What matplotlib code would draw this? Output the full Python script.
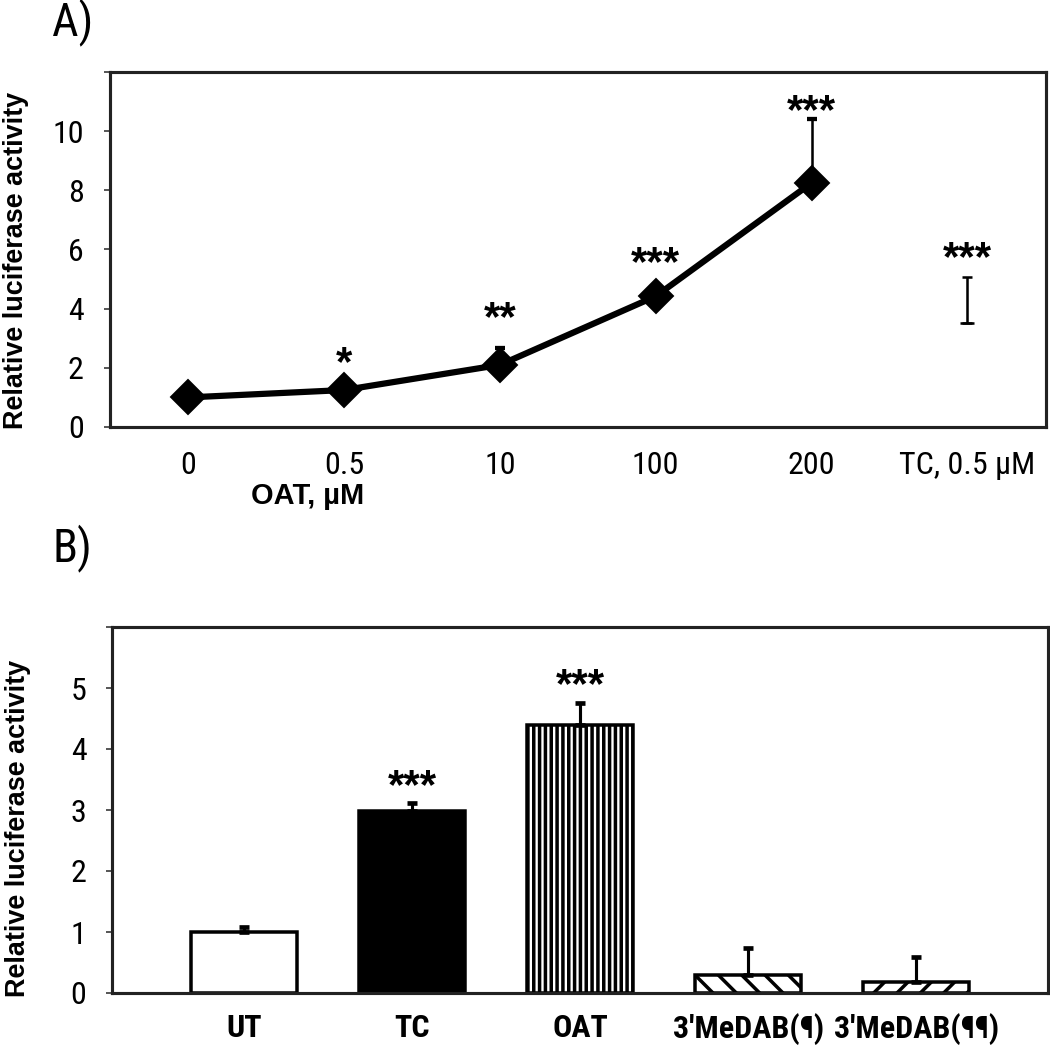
import matplotlib
matplotlib.use("Agg")
import matplotlib.pyplot as plt
import numpy as np

# ---- Panel A data ----
a_labels = ["0", "0.5", "10", "100", "200", "TC, 0.5 µM"]
a_oat_values = [1.0, 1.25, 2.1, 4.42, 8.25]
a_oat_err_up = [0.0, 0.0, 0.57, 0.3, 2.15]
a_tc_value = 3.5
a_tc_err_up = 1.58
a_stars = ["", "*", "**", "***", "***", "***"]
a_star_y = [None, 2.37, 3.9, 5.73, 10.88, 5.9]

# ---- Panel B data ----
b_labels = ["UT", "TC", "OAT", "3'MeDAB(¶)", "3'MeDAB(¶¶)"]
b_values = [1.0, 2.98, 4.39, 0.30, 0.18]
b_err_up = [0.09, 0.14, 0.36, 0.43, 0.41]
b_stars = ["", "***", "***", "", ""]
b_star_y = [None, 3.49, 5.15, None, None]

DPI = 140
W, H = 1050, 1046
fig = plt.figure(figsize=(W / DPI, H / DPI), dpi=DPI)
plt.rcParams['hatch.linewidth'] = 1.8

narrow = ['Roboto Condensed', 'Archivo Narrow', 'DejaVu Sans']
boldf = ['Liberation Sans', 'DejaVu Sans']
STAR_OFF = 18  # px from star centre to text baseline

def px2pt(px):
    return px * 72.0 / DPI

def axrect(l, t, r, b):
    return [l / W, 1 - b / H, (r - l) / W, (b - t) / H]

# ---------------- Panel A ----------------
axA = fig.add_axes(axrect(109.7, 72, 1046, 427))
xa = np.arange(len(a_oat_values))
axA.plot(xa, a_oat_values, color='black', lw=3.2, marker='D', markersize=px2pt(24),
         markerfacecolor='black', markeredgecolor='black', zorder=3)
axA.errorbar(xa, a_oat_values, yerr=[np.zeros(len(xa)), a_oat_err_up], fmt='none',
             ecolor='black', elinewidth=1.3, capsize=px2pt(5), capthick=2.2, zorder=2)
axA.errorbar([5], [a_tc_value], yerr=[[0], [a_tc_err_up]], fmt='_', color='black',
             markersize=px2pt(14), markeredgewidth=1.3,
             ecolor='black', elinewidth=1.3, capsize=px2pt(5), capthick=2.2)
for i, (s, y) in enumerate(zip(a_stars, a_star_y)):
    if s:
        axA.text(i, y - STAR_OFF / 29.6, s, ha='center', va='baseline',
                 fontsize=px2pt(42), fontweight='bold', family=boldf)
axA.set_xlim(-0.505, 5.505)
axA.set_ylim(0, 12)
axA.set_yticks([0, 2, 4, 6, 8, 10, 12])
axA.set_yticklabels(["0", "2", "4", "6", "8", "10", ""])
axA.set_xticks(np.arange(len(a_labels)))
axA.set_xticklabels(a_labels)
axA.tick_params(axis='x', length=0, pad=px2pt(24))
axA.tick_params(axis='y', length=px2pt(6), width=1.0, color='#555555', pad=px2pt(20))
for lab in axA.get_xticklabels() + axA.get_yticklabels():
    lab.set_family(narrow)
    lab.set_fontsize(px2pt(32))
for sp in axA.spines.values():
    sp.set_linewidth(1.6)
    sp.set_color('#222222')
axA.set_ylabel("Relative luciferase activity", fontsize=px2pt(27), fontweight='bold',
               family=boldf, va='center')
axA.yaxis.set_label_coords((16 - 109.7) / (1046 - 109.7), 0.47)
fig.text(308 / W, 1 - 496 / H, "OAT, µM", ha='center', va='center',
         fontsize=px2pt(29), fontweight='bold', family=boldf)
fig.text(52 / W, 1 - 22 / H, "A)", ha='left', va='center', fontsize=px2pt(46),
         family=narrow)

# ---------------- Panel B ----------------
axB = fig.add_axes(axrect(112.4, 627, 1047.8, 993))
xb = np.arange(len(b_values))
faces = ['white', 'black', 'white', 'white', 'white']
hatches = [None, None, '||||', '\\\\', '//']
for i in range(len(b_values)):
    axB.bar(xb[i], b_values[i], width=0.63, color=faces[i], edgecolor='black',
            linewidth=1.8, hatch=hatches[i], zorder=2)
axB.errorbar(xb, b_values, yerr=[np.zeros(len(xb)), b_err_up], fmt='none',
             ecolor='black', elinewidth=1.6, capsize=px2pt(5), capthick=2.4, zorder=3)
for i, (s, y) in enumerate(zip(b_stars, b_star_y)):
    if s:
        axB.text(i, y - STAR_OFF / 61.2, s, ha='center', va='baseline',
                 fontsize=px2pt(42), fontweight='bold', family=boldf)
axB.set_xlim(-0.783, 4.783)
axB.set_ylim(0, 6)
axB.set_yticks([0, 1, 2, 3, 4, 5, 6])
axB.set_yticklabels(["0", "1", "2", "3", "4", "5", ""])
axB.set_xticks(xb)
axB.set_xticklabels(b_labels)
axB.tick_params(axis='x', length=0, pad=px2pt(20))
axB.tick_params(axis='y', length=px2pt(6), width=1.0, color='#555555', pad=px2pt(20))
for lab in axB.get_yticklabels():
    lab.set_family(narrow)
    lab.set_fontsize(px2pt(32))
for lab in axB.get_xticklabels():
    lab.set_family(narrow)
    lab.set_fontweight('bold')
    lab.set_fontsize(px2pt(32))
for sp in axB.spines.values():
    sp.set_linewidth(1.6)
    sp.set_color('#222222')
axB.set_ylabel("Relative luciferase activity", fontsize=px2pt(27), fontweight='bold',
               family=boldf, va='center')
axB.yaxis.set_label_coords((18 - 112.4) / (1047.8 - 112.4), 0.45)
fig.text(52 / W, 1 - 548 / H, "B)", ha='left', va='center', fontsize=px2pt(46),
         family=narrow)

fig.savefig("out.png", dpi=DPI)
